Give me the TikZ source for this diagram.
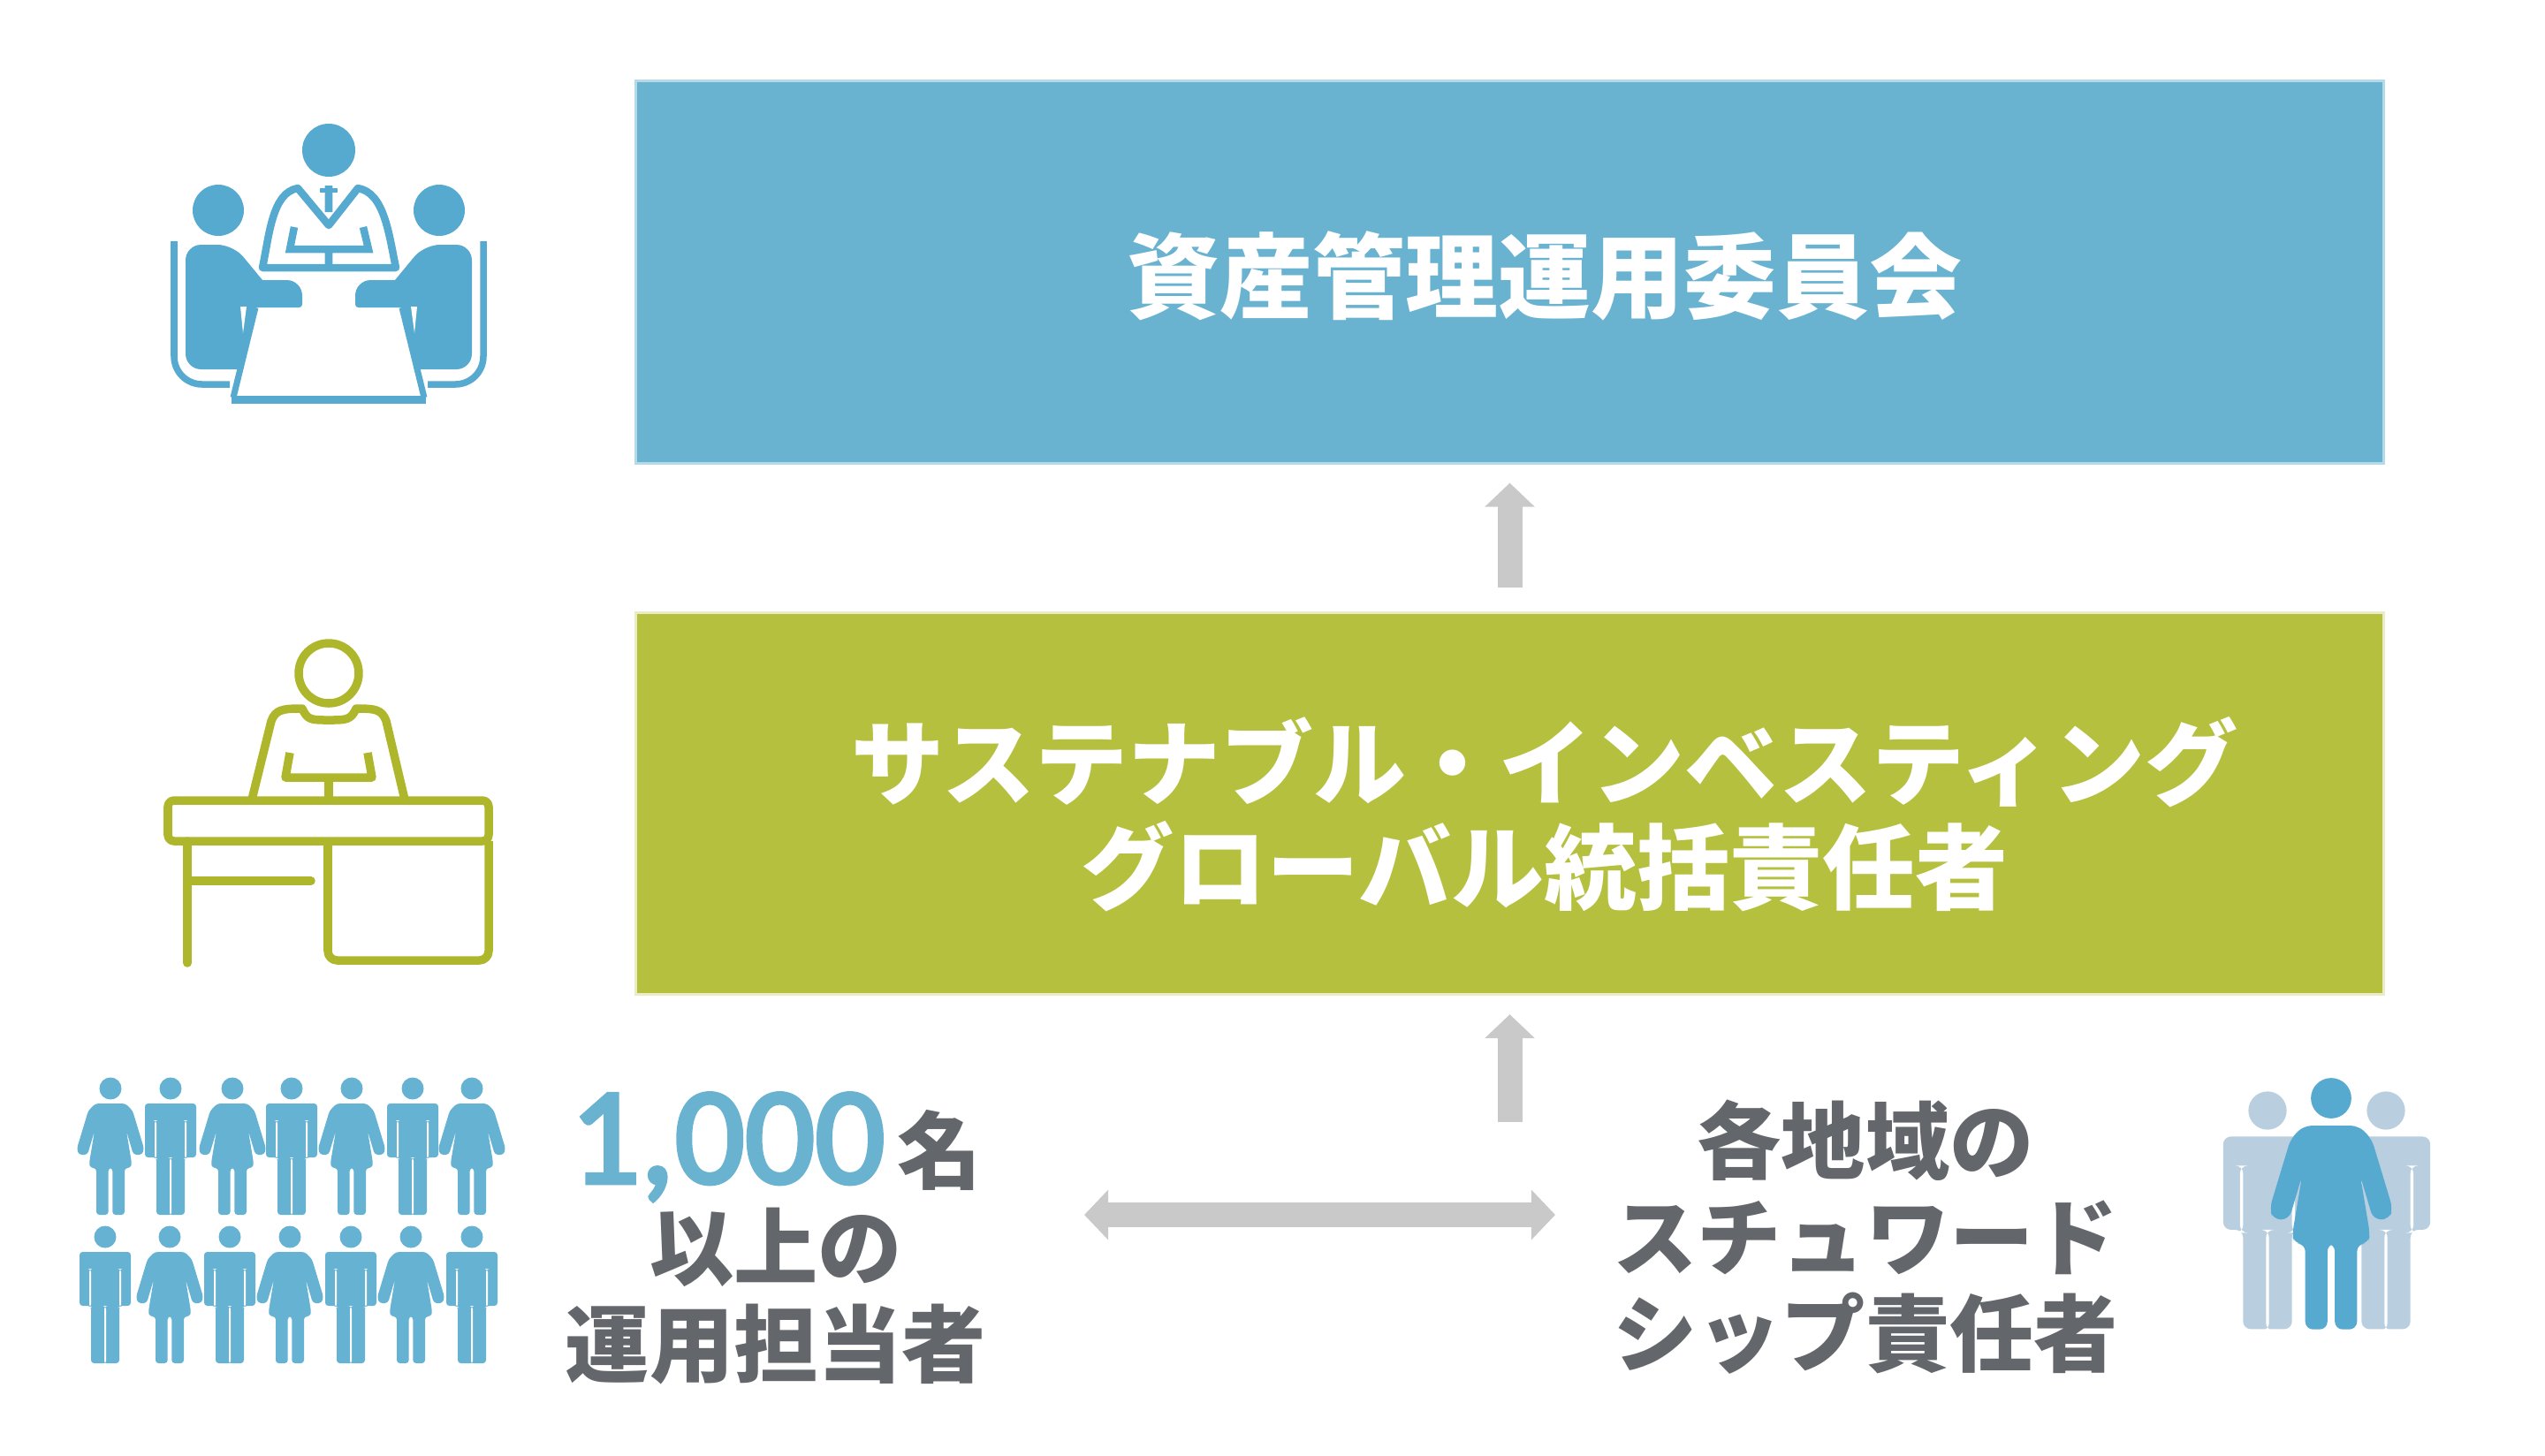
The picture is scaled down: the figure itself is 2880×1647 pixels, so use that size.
\documentclass[tikz,border=0pt]{standalone}
\usepackage{fontspec}
\usepackage{xcolor}
\usetikzlibrary{arrows.meta}
\newfontfamily\jpfont{Noto Sans CJK JP}
\newfontfamily\numfont[FakeBold=3]{Carlito}
\definecolor{boxblue}{HTML}{69B3D1}
\definecolor{boxgreen}{HTML}{B6C03F}
\definecolor{iconblue}{HTML}{56AACF}
\definecolor{icongreen}{HTML}{AEB72B}
\definecolor{peopleblue}{HTML}{66B2D2}
\definecolor{paleblue}{HTML}{B9CFDF}
\definecolor{arrowgray}{HTML}{C9C9C9}
\definecolor{labelgray}{HTML}{63666A}
\tikzset{
	manfig/.pic={
		\fill[pic actions] (0,0) circle (12.5);
		\fill[pic actions] (-29,17) -- (29,17) -- (29,78) -- (16,78) -- (16,143) -- (-16,143) -- (-16,78) -- (-29,78) -- cycle;
		\fill[white] (16,36) rectangle (18,80);
		\fill[white] (-18,36) rectangle (-16,80);
		\fill[white] (-1,78) rectangle (1,144);
	},
	womanfig/.pic={
		\fill[pic actions] (0,0) circle (12.5);
		\fill[pic actions] (-17,17) -- (17,17) -- (25,25) -- (38,68) -- (36,75) -- (26,75) -- (18,48) -- (24,84) -- (23,90) -- (16,90) -- (16,143) -- (2.3,143) -- (2.3,90) -- (-2.3,90) -- (-2.3,143) -- (-16,143) -- (-16,90) -- (-23,90) -- (-24,84) -- (-18,48) -- (-26,75) -- (-36,75) -- (-38,68) -- (-25,25) -- cycle;
	},
	sitterfig/.pic={
		\draw[iconblue, line width=0.075cm, rounded corners=9pt] (-175,273) -- (-175,435) -- (-112,435);
		\fill[iconblue] (-125,238) circle (29);
		\fill[iconblue, rounded corners=5pt] (-162,277) -- (-108,277) [sharp corners] -- (-75,317) [rounded corners=5pt] -- (-30,317) [rounded corners=1pt] -- (-30,348) [sharp corners] -- (-83,348) -- (-100,418) [rounded corners=5pt] -- (-162,418) -- cycle;
		\fill[white] (-100,347) -- (-93,347) -- (-97,377) -- cycle;
		\draw[iconblue, line width=0.07cm] (-83,348) -- (-108,450);
	}
}
\begin{document}
\begin{tikzpicture}[>={Triangle[length=0.27cm,width=0.55cm]}, x=0.01cm, y=-0.01cm,
		colorbox/.style={minimum width=19.77cm, minimum height=4.32cm, inner sep=0pt, line width=0.03cm},
		boxlabel/.style={white, align=center, font=\jpfont\bfseries\fontsize{29.85}{33.5}\selectfont},
		sidelabel/.style={labelgray, align=center, font=\jpfont\bfseries\fontsize{27.1}{31}\selectfont},
		grayarrow/.style={arrowgray, line width=0.28cm},
		iconline/.style={line width=0.095cm, line join=round}]
	\useasboundingbox (0,0) rectangle (2880,1647);

	\node[colorbox, fill=boxblue, draw=boxblue!50!white] (committee) at (1708.5,308) {};
	\node[colorbox, fill=boxgreen, draw=boxgreen!30!white] (officer) at (1708.5,909.5) {};
	\node[boxlabel] (committeetext) at (1748,312) {資産管理運用委員会};
	\node[boxlabel] (officertext) at (1748,922) {サステナブル・インベスティング\\グローバル統括責任者};
	\node[sidelabel] (managers) at (878,1402) {{\numfont\mdseries\color{boxblue}\fontsize{44.5}{31}\selectfont 1,000}\hspace{4pt}名\\以上の\\運用担当者};
	\node[sidelabel] (stewards) at (2111,1400) {各地域の\\スチュワード\\シップ責任者};

	\coordinate (lowbase) at (1708.5,1270);
	\coordinate (dblleft) at (1227,1375);
	\coordinate (dblright) at (1760,1375);
	\draw[->, grayarrow, shorten <=0.27cm, shorten >=0.21cm] (officer.north) -- (committee.south);
	\draw[->, grayarrow, shorten >=0.21cm] (lowbase) -- (officer.south);
	\draw[<->, grayarrow] (dblleft) -- (dblright);

	\pic at (372,0) {sitterfig};
	\pic[xscale=-1] at (372,0) {sitterfig};
	\fill[iconblue] (372,170) circle (30);
	\draw[iconblue, line width=0.085cm, line join=round] (297,303) .. controls (305,265) and (308,218) .. (337,213) -- (372,255) -- (405,213) .. controls (435,218) and (440,265) .. (448,303) -- cycle;
	\draw[iconblue, line width=0.085cm] (333,257) -- (328,282) -- (417,282) -- (411,257) (372,282) -- (372,303) (372,210) -- (372,240);
	\fill[iconblue] (362,213) rectangle (382,218);
	\draw[iconblue, line width=0.09cm] (262,452) -- (482,452);

	\draw[icongreen, iconline] (372,762) circle (34);
	\draw[icongreen, iconline] (285,905) -- (307,816) .. controls (312,803) and (320,802) .. (342,802) .. controls (348,815) and (352,815) .. (372,815) .. controls (392,815) and (397,815) .. (403,802) .. controls (425,802) and (432,803) .. (437,816) -- (458,905);
	\draw[icongreen, iconline] (328,852) -- (323,880) -- (421,880) -- (416,852) (372,880) -- (372,905);
	\draw[icongreen, iconline, rounded corners=2pt] (190,906) rectangle (553,952);
	\draw[icongreen, iconline, line cap=round] (212,952) -- (212,1090) (212,997) -- (352,997);
	\draw[icongreen, iconline, rounded corners=3pt] (371,952) -- (371,1087) -- (553,1087) -- (553,952);

	\foreach \px in {125,263,398,534}
		\pic[fill=peopleblue, rounded corners=1pt] at (\px,1232) {womanfig};
	\foreach \px in {193,330,467}
		\pic[fill=peopleblue, rounded corners=1pt] at (\px,1232) {manfig};
	\foreach \px in {119,260,397,534}
		\pic[fill=peopleblue, rounded corners=1pt] at (\px,1400) {manfig};
	\foreach \px in {192,328,465}
		\pic[fill=peopleblue, rounded corners=1pt] at (\px,1400) {womanfig};

	\pic[fill=paleblue, scale=1.73, rounded corners=2.5pt] at (2566,1257) {manfig};
	\pic[fill=paleblue, scale=1.73, rounded corners=2.5pt] at (2700,1257) {manfig};
	\pic[fill=iconblue, scale=1.83, rounded corners=2.5pt] at (2638,1243) {womanfig};
\end{tikzpicture}
\end{document}
